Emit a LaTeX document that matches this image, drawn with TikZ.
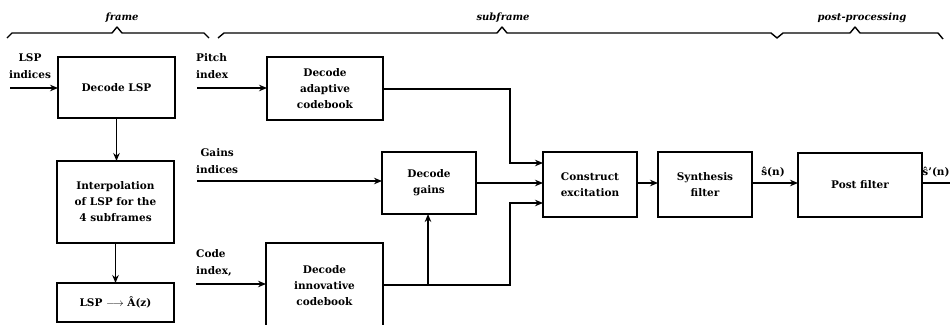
\documentclass[tikz,border=0pt]{standalone}
\usepackage{fontspec}
\setmainfont{DejaVu Serif}
\usetikzlibrary{arrows.meta}
\begin{document}
\begin{tikzpicture}[x=1pt,y=-1pt,
  box/.style={draw,line width=1.4pt,anchor=north west,outer sep=0pt,inner sep=1pt,
    align=center,font=\bfseries\fontsize{10.5}{16}\selectfont},
  lbl/.style={font=\bfseries\fontsize{10.5}{17}\selectfont,inner sep=0pt},
  ttl/.style={font=\bfseries\itshape\fontsize{10}{12}\selectfont,inner sep=0pt},
  wire/.style={line width=1.4pt},
  arr/.style={wire,-{Stealth[length=8pt,width=6.5pt]}},
  brace/.style={line width=1.4pt,line join=round}]
\useasboundingbox (0,0) rectangle (950,324);
% boxes
\node[box,minimum width=117pt,minimum height=61pt] (dlsp) at (58,57) {Decode LSP};
\node[box,minimum width=117pt,minimum height=82pt] (interp) at (57,161) {Interpolation\\of LSP for the\\4 subframes};
\node[box,minimum width=117pt,minimum height=39pt] (lspa) at (57,283) {LSP $\longrightarrow$ Â(z)};
\node[box,minimum width=116pt,minimum height=63pt] (adapt) at (267,57) {Decode\\adaptive\\codebook};
\node[box,minimum width=94pt,minimum height=62pt] (gains) at (382,152) {Decode\\gains};
\node[box,minimum width=117pt,minimum height=85pt] (innov) at (266,243) {Decode\\innovative\\codebook};
\node[box,minimum width=94pt,minimum height=65pt] (constr) at (543,152) {Construct\\excitation};
\node[box,minimum width=94pt,minimum height=65pt] (synth) at (658,152) {Synthesis\\filter};
\node[box,minimum width=124pt,minimum height=64pt] (post) at (798,153) {Post filter};
% input labels
\node[lbl,align=center] (tlsp) at (30,66) {LSP\\indices};
\node[lbl,align=left,anchor=west] (tpitch) at (196,66) {Pitch\\index};
\node[lbl,align=center,anchor=west] (tgain) at (196,161) {Gains\\indices};
\node[lbl,align=left,anchor=west] (tcode) at (196,263) {Code\\index,};
\node[lbl] (tsn) at (773,172) {ŝ(n)};
\node[lbl] (tspn) at (936,172) {ŝ'(n)};
% titles
\node[ttl] (tframe) at (122,18) {frame};
\node[ttl] (tsub) at (503,18) {subframe};
\node[ttl] (tpost) at (862,18) {post-processing};
% braces
\draw[brace] (7,38) -- (12,33) -- (112,33) -- (117,27) -- (122,33) -- (204,33) -- (209,38);
\draw[brace] (218,38) -- (224,33) -- (497,33) -- (502,27) -- (507,33) -- (771,33) -- (777,38)
  -- (783,33) -- (850,33) -- (855,27) -- (860,33) -- (938,33) -- (943,39);
% coordinates
\coordinate (clsp) at (10,88);
\coordinate (cpitch) at (197,88);
\coordinate (cgain) at (197,181);
\coordinate (ccode) at (196,284);
\coordinate (a1) at (510,89);
\coordinate (a2) at (510,163);
\coordinate (g1) at (476,183);
\coordinate (i1) at (510,285);
\coordinate (a3) at (510,203);
\coordinate (b1) at (428,285);
\coordinate (o1) at (700,183);
\coordinate (oend) at (950,183);
% connectors
\draw[arr] (clsp) -- (clsp -| dlsp.west);
\draw[arr] (dlsp.south) -- (dlsp.south |- interp.north);
\draw[arr] (interp.south) -- (lspa.north);
\draw[arr] (cpitch) -- (cpitch -| adapt.west);
\draw[arr] (cgain) -- (cgain -| gains.west);
\draw[arr] (ccode) -- (ccode -| innov.west);
\draw[arr] (a1 -| adapt.east) -- (a1) -- (a2) -- (a2 -| constr.west);
\draw[arr] (g1 -| gains.east) -- (g1 -| constr.west);
\draw[arr] (i1 -| innov.east) -- (i1) -- (a3) -- (a3 -| constr.west);
\draw[arr] (b1) -- (b1 |- gains.south);
\draw[arr] (o1 -| constr.east) -- (o1 -| synth.west);
\draw[arr] (o1 -| synth.east) -- (o1 -| post.west);
\draw[wire] (o1 -| post.east) -- (oend);
\end{tikzpicture}
\end{document}
